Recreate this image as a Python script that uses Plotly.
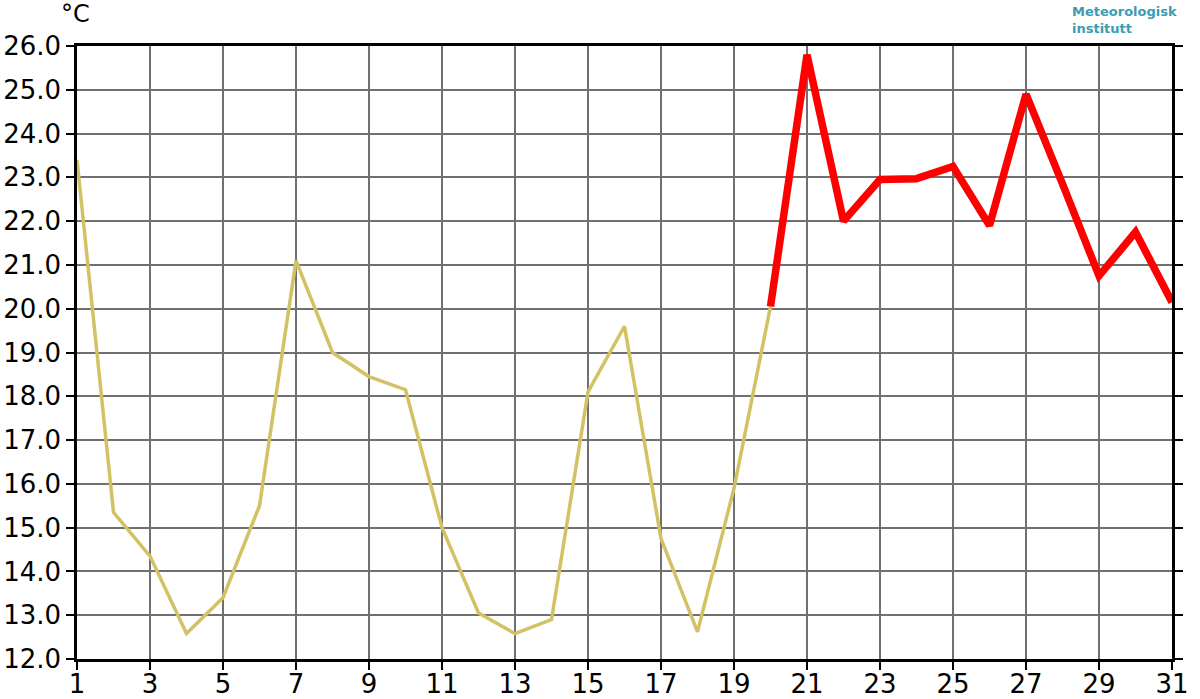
import plotly.graph_objects as go

days_obs = list(range(1, 21))
temp_obs = [23.4, 15.35, 14.35, 12.58, 13.4, 15.5, 21.1, 19.0, 18.45, 18.15,
            15.0, 13.05, 12.58, 12.9, 18.1, 19.6, 14.75, 12.62, 15.9, 20.05]

days_fc = list(range(20, 32))
temp_fc = [20.05, 25.8, 22.0, 22.95, 22.97, 23.25, 21.9, 24.9, 22.85, 20.75, 21.75, 20.15]

x_ticks = list(range(1, 32, 2))
y_ticks = [12 + i for i in range(15)]
y_labels = [f"{v:.1f}" for v in y_ticks]

fig = go.Figure()
fig.add_trace(go.Scatter(x=days_obs, y=temp_obs, mode="lines",
                         line=dict(color="#d2c264", width=3.5), showlegend=False))
fig.add_trace(go.Scatter(x=days_fc, y=temp_fc, mode="lines",
                         line=dict(color="#ff0000", width=7.5), showlegend=False))

font_family = "DejaVu Sans"
fig.update_layout(
    width=1200, height=699,
    margin=dict(l=77, r=28, t=46, b=40),
    paper_bgcolor="white", plot_bgcolor="white",
    font=dict(family=font_family, size=26, color="black"),
    xaxis=dict(range=[1, 31], tickmode="array", tickvals=x_ticks,
               ticktext=[str(v) for v in x_ticks],
               showgrid=True, gridcolor="#707070", gridwidth=2,
               showline=True, linecolor="black", linewidth=2.5, mirror=True,
               ticks="outside", ticklen=8, tickwidth=2, tickcolor="black",
               ticklabelstandoff=-8,
               zeroline=False, tickfont=dict(size=26), automargin=False),
    yaxis=dict(range=[12, 26], tickmode="array", tickvals=y_ticks, ticktext=y_labels,
               showgrid=True, gridcolor="#707070", gridwidth=2,
               showline=True, linecolor="black", linewidth=2.5, mirror="ticks",
               ticks="outside", ticklen=8, tickwidth=2, tickcolor="black",
               zeroline=False, tickfont=dict(size=26), automargin=False),
)

fig.add_annotation(x=-0.016, y=1.0, xref="paper", yref="paper", yshift=16,
                   text="°C", showarrow=False, xanchor="left", yanchor="bottom",
                   font=dict(family=font_family, size=24, color="black"))
fig.add_annotation(x=1.0065, y=1.0, xref="paper", yref="paper", yshift=8,
                   text="<b>Meteorologisk<br>institutt</b>", showarrow=False,
                   xanchor="right", yanchor="bottom", align="left",
                   font=dict(family=font_family, size=13, color="#3d9bb3"))

fig.write_html("out.html", config={"displayModeBar": False},
               post_script="document.body.style.margin='0';document.body.style.overflow='hidden';")
